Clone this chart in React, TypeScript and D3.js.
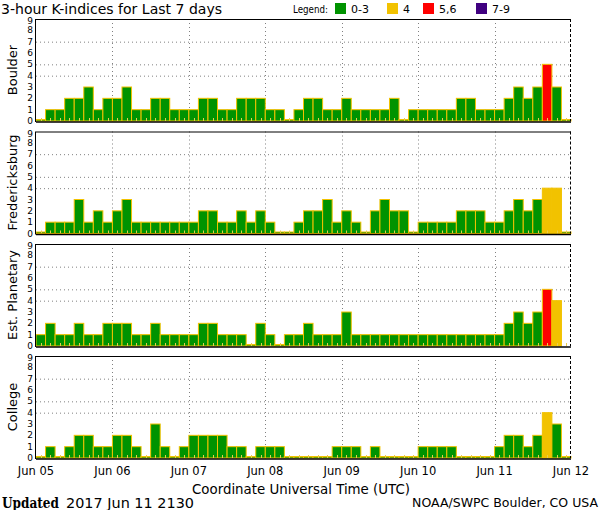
import React from "react";
import * as d3 from "d3";

const stations = ["Boulder", "Fredericksburg", "Est. Planetary", "College"];
const boulder = [0,1,1,2,2,3,1,2, 2,3,1,1,2,2,1,1, 1,2,2,1,1,2,2,2, 1,1,0,1,2,2,1,1, 2,1,1,1,1,2,0,1, 1,1,1,1,2,2,1,1, 1,2,3,2,3,5,3,0];
const fredericksburg = [0,1,1,1,3,1,2,1, 2,3,1,1,1,1,1,1, 1,2,2,1,1,2,1,2, 1,0,0,1,2,2,3,1, 2,1,0,2,3,2,2,0, 1,1,1,1,2,2,2,1, 1,2,3,2,3,4,4,0];
const planetary: (number | null)[] = [1,2,1,1,2,1,1,2, 2,2,1,1,2,1,1,1, 1,2,2,1,1,1,0,2, 1,0,1,1,2,1,1,1, 3,1,1,1,1,1,1,1, 1,1,1,1,1,1,1,1, 1,2,3,2,3,5,4,null];
const college = [0,1,0,1,2,2,1,1, 2,2,1,0,3,1,0,1, 2,2,2,2,1,1,0,1, 1,1,0,0,0,0,0,1, 1,1,0,1,0,0,0,0, 1,1,1,1,0,0,0,0, 1,2,2,1,2,4,3,0];
const series: (number | null)[][] = [boulder, fredericksburg, planetary, college];
const dayLabels = ["Jun 05", "Jun 06", "Jun 07", "Jun 08", "Jun 09", "Jun 10", "Jun 11", "Jun 12"];
const yTicks = [0,1,2,3,4,5,6,7,8,9];
const gridValues = [4, 5, 7];
const legendLabels = ["0-3", "4", "5,6", "7-9"];
const legendColors = ["#009300", "#f2c200", "#ff0000", "#400080"];

const W = 600, H = 510;
const LEFT = 36, RIGHT = 571;
const PANEL_TOPS = [19, 131.5, 244, 356];
const PANEL_H = 102;

export default function App() {
  const start = new Date(Date.UTC(2017, 5, 5));
  const end = new Date(Date.UTC(2017, 5, 12));
  const x = d3.scaleUtc().domain([start, end]).range([LEFT, RIGHT]);
  const barTime = (i: number) => new Date(start.getTime() + i * 3 * 3600 * 1000);
  const color = d3.scaleThreshold<number, string>().domain([4, 5, 7]).range(legendColors);
  const days = d3.utcDay.range(start, d3.utcDay.offset(end, 1));
  const font = "DejaVu Sans, sans-serif";

  return (
    <svg width={W} height={H} style={{ position: "absolute", left: 0, top: 0, background: "#fff" }} fontFamily={font}>
      <rect x={0} y={0} width={W} height={H} fill="#fff" />
      <text x={1} y={14} fontSize={14.5} textLength={221} lengthAdjust="spacingAndGlyphs">3-hour K-indices for Last 7 days</text>
      <text x={293} y={13} fontSize={11} textLength={35} lengthAdjust="spacingAndGlyphs">Legend:</text>
      {legendLabels.map((l, i) => {
        const xs = [335, 387, 423, 476][i];
        return (
          <g key={l}>
            <rect x={xs} y={3} width={11} height={11} fill={legendColors[i]} />
            <text x={xs + 16} y={13} fontSize={11}>{l}</text>
          </g>
        );
      })}
      {series.map((data, p) => {
        const top = PANEL_TOPS[p];
        const bottom = top + PANEL_H;
        const y = d3.scaleLinear().domain([0, 9]).range([bottom, top]);
        return (
          <g key={p}>
            {gridValues.map((g) => (
              <line key={g} x1={LEFT} x2={RIGHT} y1={y(g) + 0.5} y2={y(g) + 0.5} stroke="#808080" strokeDasharray="1,3" />
            ))}
            {days.slice(1, 7).map((d) => (
              <line key={+d} x1={Math.round(x(d)) + 0.5} x2={Math.round(x(d)) + 0.5} y1={top} y2={bottom} stroke="#808080" strokeDasharray="1,3" />
            ))}
            {data.map((v, i) => {
              if (v === null) return null;
              const x0 = x(barTime(i));
              const x1 = x(barTime(i + 1));
              const yt = v === 0 ? bottom - 1.5 : y(v);
              return (
                <rect key={i} x={x0} y={yt} width={x1 - x0} height={bottom - yt}
                  fill={color(v)} stroke="#f2c200" strokeWidth={1} />
              );
            })}
            {data.map((_, i) => {
              const xc = Math.round((x(barTime(i)) + x(barTime(i + 1))) / 2) + 0.5;
              return <line key={"t" + i} x1={xc} x2={xc} y1={bottom} y2={bottom - 3} stroke="#e8cc50" />;
            })}
            <line x1={LEFT} x2={RIGHT} y1={top + 0.5} y2={top + 0.5} stroke="#000" />
            <line x1={LEFT - 0.5} x2={LEFT - 0.5} y1={top} y2={bottom + 1} stroke="#000" />
            <line x1={LEFT} x2={RIGHT} y1={bottom + 1} y2={bottom + 1} stroke="#000" strokeWidth={1.5} />
            <line x1={RIGHT - 0.5} x2={RIGHT - 0.5} y1={top} y2={bottom} stroke="#000" strokeDasharray="3,2" />
            {yTicks.map((t) => (
              <text key={t} x={33} y={t === 9 ? top + 2 : y(t)} fontSize={9} textAnchor="end" dominantBaseline="central">{t}</text>
            ))}
            <text transform={`translate(17,${(top + bottom) / 2}) rotate(-90)`} fontSize={13} textAnchor="middle">{stations[p]}</text>
          </g>
        );
      })}
      {days.map((d, i) => (
        <text key={+d} x={x(d)} y={475} fontSize={11.5} textAnchor="middle">{dayLabels[i]}</text>
      ))}
      <text x={301} y={494} fontSize={14} textAnchor="middle" textLength={218} lengthAdjust="spacingAndGlyphs">Coordinate Universal Time (UTC)</text>
      <text x={2} y={508} fontSize={14} fontWeight="bold" fontFamily="DejaVu Serif, serif" textLength={57} lengthAdjust="spacingAndGlyphs">Updated</text>
      <text x={66} y={508} fontSize={14} textLength={128} lengthAdjust="spacingAndGlyphs">2017 Jun 11 2130</text>
      <text x={598} y={507} fontSize={12.5} textAnchor="end">NOAA/SWPC Boulder, CO USA</text>
    </svg>
  );
}
